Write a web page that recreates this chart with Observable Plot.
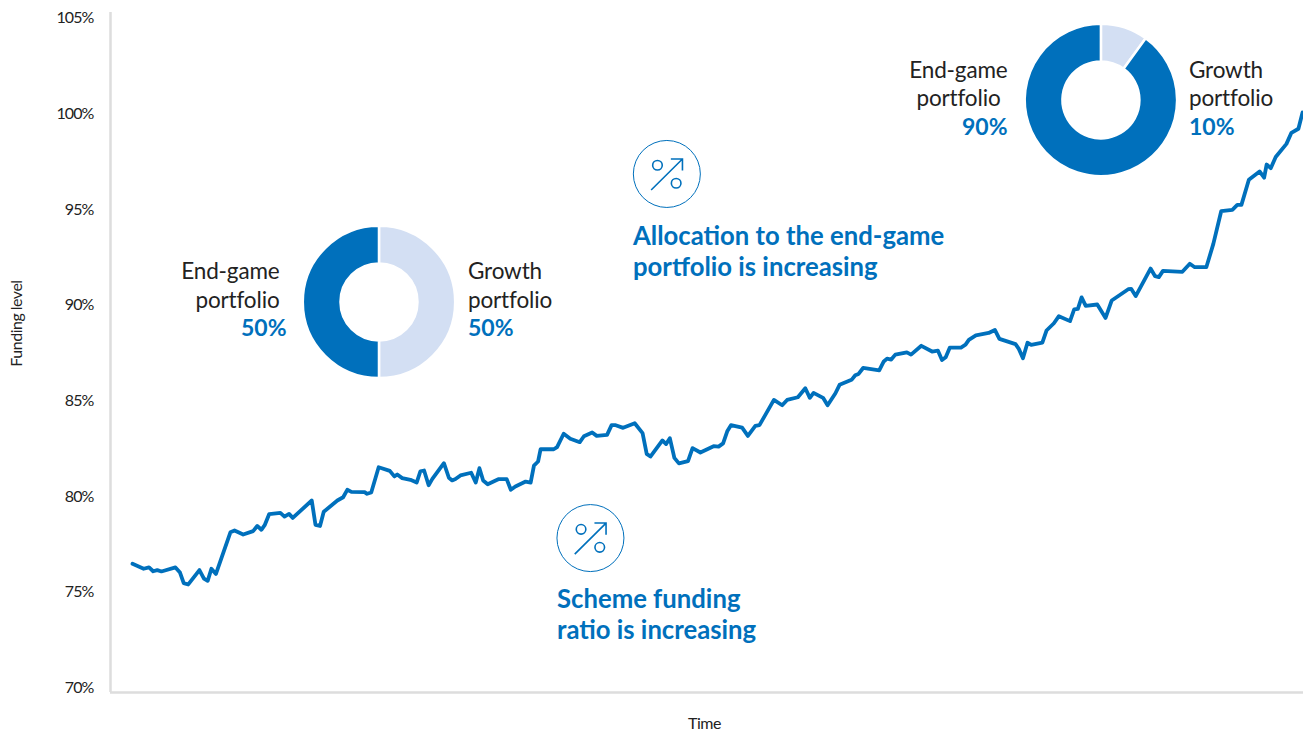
<!DOCTYPE html>
<html>
<head>
<meta charset="utf-8">
<script src="https://cdn.jsdelivr.net/npm/d3@7"></script>
<script src="https://cdn.jsdelivr.net/npm/@observablehq/plot@0.6"></script>
<style>
  html, body { margin: 0; padding: 0; background: #fff; }
  svg { display: block; }
  .tight text { letter-spacing: -0.15px; }
  .ticks text { letter-spacing: -0.9px; }
  .caption text { letter-spacing: -0.5px; }
</style>
</head>
<body>
<script>
// Funding level by reporting period (period numbers are on a uniform time axis).
const periods = [
  0,2.7,4,5,6,7,10.4,11.5,12.4,13.5,16.2,17.3,18.2,19.1,20.2,23.7,24.7,26.8,29.2,30.2,31.2,32,33.1,35.8,36.8,37.9,38.8,43.4,44.3,45.4,46.3,49.6,51,52,53,56.2,56.8,57.8,59.6,62.3,63.4,64.1,65.3,
  67.3,68.8,69.7,70.6,71.7,72.6,75.4,76.6,77.4,78.2,79.4,82,83.1,84,84.9,86,88.7,90.6,91.6,92.7,95.2,96.4,97.2,98.2,98.8,102,102.8,104.4,106,108.3,109.3,111.3,112.4,114.9,116,117,118.8,121.6,123.5,124.5,125.4,128.3,129.2,130.1,131.2,132.3,134.5,135.6,137.5,
  140.7,141.9,143,144,144.9,147.6,149,150.8,151.8,155.3,157.3,158.5,161.1,162.9,164,164.9,167.2,168.3,170.2,171.2,174.1,175,175.8,176.9,180.8,181.9,182.7,183.7,184.7,187.5,188.5,191,193.6,195,196,196.9,197.9,200.6,201.7,202.5,204.2,207.3,208.8,209.9,
  213.8,214.6,215.6,216.7,217.6,220.3,221.3,223.1,224.3,227,228,228.9,229.8,230.8,233.6,235.6,237.1,241.1,241.8,242.9,246.5,247.6,248.5,249.5,254.2,256,257.2,260,261.7,263.6,266.3,267.5,268.5,270.3,272.9,274,274.6,275.6,276.8,279.4,280.6,282.3,283.3
];
const fundingLevel = [
  76.45,76.19,76.26,76.06,76.12,76.05,76.26,75.99,75.44,75.37,76.12,75.68,75.56,76.19,75.92,78.10,78.19,77.98,78.16,78.43,78.23,78.47,79.05,79.11,78.92,79.06,78.85,79.76,78.49,78.43,79.17,79.76,79.93,80.32,80.21,80.20,80.11,80.18,81.50,81.31,81.02,81.12,80.93,
  80.84,80.70,81.29,81.33,80.56,80.89,81.71,80.95,80.81,80.88,81.07,81.21,80.70,81.45,80.81,80.61,80.88,80.88,80.32,80.49,80.75,80.70,81.59,81.80,82.44,82.44,82.55,83.25,82.99,82.81,83.12,83.32,83.14,83.19,83.70,83.70,83.56,83.80,83.28,82.20,82.06,82.90,82.71,83.02,81.99,81.70,81.82,82.50,82.27,
  82.60,82.58,82.75,83.38,83.70,83.57,83.14,83.66,83.70,85.02,84.74,85.02,85.16,85.63,85.13,85.39,85.13,84.74,85.37,85.81,86.07,86.31,86.38,86.69,86.57,87.03,87.18,87.13,87.39,87.51,87.39,87.85,87.55,87.60,87.11,87.25,87.76,87.76,87.91,88.16,88.40,88.52,88.68,88.21,
  87.94,87.69,87.20,88.01,87.90,88.02,88.65,89.03,89.40,89.14,89.75,89.78,90.38,89.94,90.01,89.31,90.22,90.81,90.83,90.45,91.89,91.49,91.44,91.77,91.72,92.14,91.96,91.96,93.18,94.89,94.96,95.22,95.22,96.53,96.97,96.64,97.33,97.14,97.72,98.41,98.99,99.20,100.05
];
const levelTicks = [70, 75, 80, 85, 90, 95, 100, 105];

// Portfolio splits shown as rings, positioned in the chart's own period / level coordinates.
const earlyMix = [50, 50];     // growth, end-game
const lateMix = [10, 90];      // growth, end-game
const mixColors = ["#D3DFF3", "#0070BC"];
const earlyAnchor = [59.8, 90.12];
const lateAnchor = [234.6, 100.68];
const iconAnchors = [[129.5, 96.81], [111.0, 77.77]];

const BLUE = "#0070BC";
const INK = "#222222";
const FONT = "Lato, 'Noto Sans', sans-serif";
const marginLeft = 110, marginTop = 12, marginBottom = 42, marginRight = 0;

// Text placed by its position on the page.
function label(str, px, py, o = {}) {
  return Plot.text([str], {
    text: d => d,
    frameAnchor: "top-left",
    dx: px - marginLeft,
    dy: py - marginTop,
    lineAnchor: "middle",
    textAnchor: o.anchor ?? "start",
    fontSize: o.size ?? 22.5,
    fontWeight: o.weight ?? 400,
    fill: o.fill ?? INK,
    rotate: o.rotate ?? 0,
    className: o.cls
  });
}

// Ring chart drawn at a chart coordinate.
function ring(values, anchor) {
  return (index, {x, y}) => {
    const pie = d3.pie().sort(null)(values);
    const arc = d3.arc().innerRadius(38.5).outerRadius(76.2);
    const g = d3.create("svg:g").attr("transform", `translate(${x(anchor[0])},${y(anchor[1])})`);
    g.selectAll("path").data(pie).join("path")
      .attr("d", arc)
      .attr("fill", (d, i) => mixColors[i])
      .attr("stroke", "#fff")
      .attr("stroke-width", 2.5);
    return g.node();
  };
}

// Circled percent sign with a rising arrow.
function percentIcon(anchor) {
  return (index, {x, y}) => {
    const g = d3.create("svg:g")
      .attr("transform", `translate(${x(anchor[0])},${y(anchor[1])})`)
      .attr("fill", "none").attr("stroke", BLUE);
    g.append("circle").attr("r", 33.5).attr("stroke-width", 1);
    g.append("circle").attr("cx", -9.4).attr("cy", -8.7).attr("r", 4.8).attr("stroke-width", 1.6);
    g.append("circle").attr("cx", 9.3).attr("cy", 9.3).attr("r", 4.8).attr("stroke-width", 1.6);
    g.append("path").attr("d", "M-15.7,16 L15.6,-15 M4,-15 H15.6 V-3.4").attr("stroke-width", 1.6);
    return g.node();
  };
}

const series = periods.map((p, i) => ({period: p, level: fundingLevel[i]}));
const xDomain = [-5.33, 283.53];
const yDomain = [69.72, 105.28];
const body = {cls: "tight"};
const bold = {size: 23, weight: 700, fill: BLUE};
const headline = {size: 25.7, weight: 700, fill: BLUE};

const chart = Plot.plot({
  width: 1303,
  height: 734,
  marginLeft, marginTop, marginBottom, marginRight,
  style: {fontFamily: FONT, background: "#fff"},
  x: {domain: xDomain, axis: null},
  y: {domain: yDomain, axis: null},
  marks: [
    Plot.ruleX([xDomain[0]], {stroke: "#DDDDDD", strokeWidth: 2.5}),
    Plot.ruleY([yDomain[0]], {stroke: "#DDDDDD", strokeWidth: 2.5}),
    Plot.axisY(levelTicks, {
      anchor: "left", tickSize: 0, tickPadding: 17, label: null, dy: 0.5,
      tickFormat: d => d + "%", fontSize: 16, fill: INK, className: "ticks"
    }),
    Plot.line(series, {x: "period", y: "level", stroke: BLUE, strokeWidth: 3.8, curve: "linear"}),

    ring(earlyMix, earlyAnchor),
    ring(lateMix, lateAnchor),
    percentIcon(iconAnchors[0]),
    percentIcon(iconAnchors[1]),

    label("End-game", 279, 271, {...body, anchor: "end"}),
    label("portfolio", 279, 300, {...body, anchor: "end"}),
    label("50%", 286, 328, {...bold, anchor: "end"}),
    label("Growth", 467.5, 271, body),
    label("portfolio", 467.5, 300, body),
    label("50%", 467.5, 328, bold),

    label("End-game", 1007, 70, {...body, anchor: "end"}),
    label("portfolio", 1000, 98, {...body, anchor: "end"}),
    label("90%", 1007, 127, {...bold, anchor: "end"}),
    label("Growth", 1188.5, 70, body),
    label("portfolio", 1188.5, 98, body),
    label("10%", 1188.5, 127, bold),

    label("Allocation to the end-game", 632.5, 236, headline),
    label("portfolio is increasing", 632.5, 267, headline),
    label("Scheme funding", 556.5, 599, headline),
    label("ratio is increasing", 556.5, 630, headline),

    label("Funding level", 16, 323, {anchor: "middle", size: 16, rotate: -90, cls: "caption"}),
    label("Time", 704, 723.5, {anchor: "middle", size: 16, cls: "caption"})
  ]
});
document.body.appendChild(chart);
</script>
</body>
</html>
